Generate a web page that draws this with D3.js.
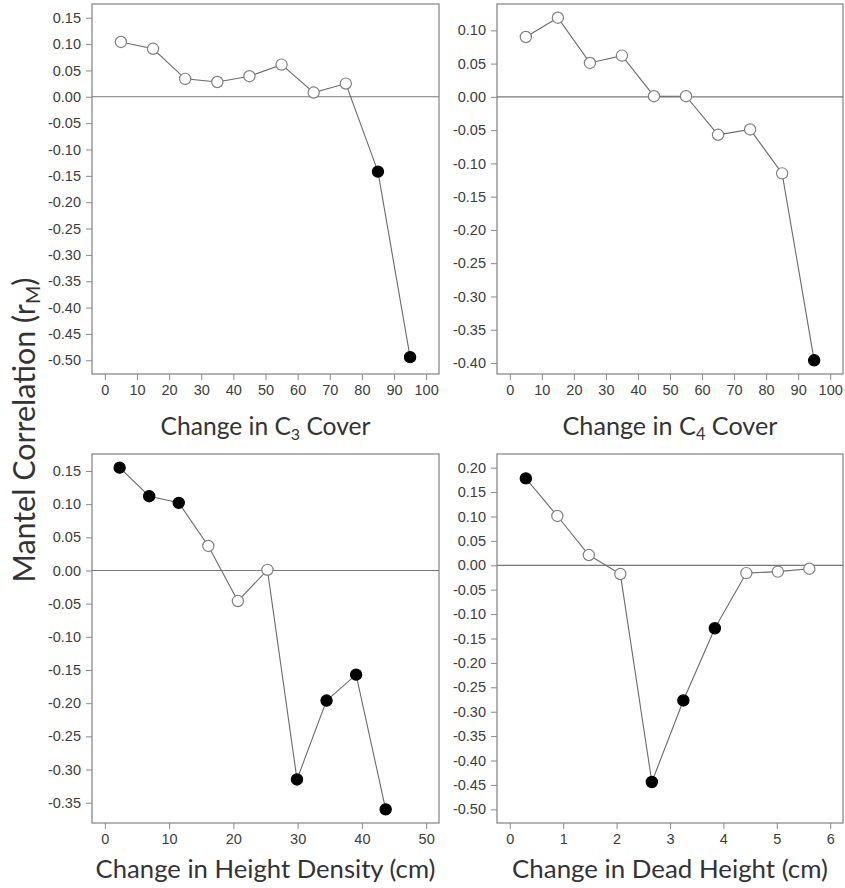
<!DOCTYPE html>
<html>
<head>
<meta charset="utf-8">
<script src="https://cdn.jsdelivr.net/npm/d3@7"></script>
<style>
  body { margin: 0; background: #fff; }
  svg { display: block; }
</style>
</head>
<body>
<svg id="chart" width="845" height="888"></svg>
<script>
// data
const c3Change = [5, 15, 25, 35, 45, 55, 65, 75, 85, 95];
const c3Mantel = [0.104, 0.091, 0.034, 0.028, 0.039, 0.061, 0.008, 0.025, -0.142, -0.494];
const c3Signif = [0, 0, 0, 0, 0, 0, 0, 0, 1, 1];

const c4Change = [5, 15, 25, 35, 45, 55, 65, 75, 85, 95];
const c4Mantel = [0.090, 0.119, 0.051, 0.062, 0.001, 0.001, -0.057, -0.049, -0.115, -0.396];
const c4Signif = [0, 0, 0, 0, 0, 0, 0, 0, 0, 1];

const densChange = [2.3, 6.9, 11.5, 16.1, 20.7, 25.3, 29.9, 34.5, 39.1, 43.7];
const densMantel = [0.155, 0.112, 0.102, 0.037, -0.046, 0.001, -0.315, -0.196, -0.157, -0.360];
const densSignif = [1, 1, 1, 0, 0, 0, 1, 1, 1, 1];

const deadChange = [0.30, 0.89, 1.48, 2.07, 2.66, 3.25, 3.84, 4.43, 5.02, 5.61];
const deadMantel = [0.178, 0.101, 0.021, -0.018, -0.444, -0.277, -0.129, -0.016, -0.013, -0.007];
const deadSignif = [1, 0, 0, 0, 1, 1, 1, 0, 0, 0];

const xTicksCover = d3.range(0, 101, 10);
const xTicksDens = d3.range(0, 51, 10);
const xTicksDead = d3.range(0, 7, 1);
const yTicksC3 = d3.range(-0.50, 0.151, 0.05);
const yTicksC4 = d3.range(-0.40, 0.101, 0.05);
const yTicksDens = d3.range(-0.35, 0.151, 0.05);
const yTicksDead = d3.range(-0.50, 0.201, 0.05);

const svg = d3.select('#chart');
const fmt = d3.formatLocale({decimal: '.', thousands: ',', grouping: [3], currency: ['', ''], minus: '-'});
const yFmt = fmt.format('.2f');
const xFmt = fmt.format('d');

// R style limits: 4% padding on each side
function pad(lo, hi) {
  let d = (hi - lo) * 0.04;
  return [lo - d, hi + d];
}

function fitWidth(text, target) {
  let w = text.node().getComputedTextLength();
  let fs = parseFloat(text.attr('font-size'));
  text.attr('font-size', fs * target / w);
}

function drawPanel(p) {
  let x = d3.scaleLinear().domain(pad(p.xlim[0], p.xlim[1])).range([p.left, p.right]);
  let y = d3.scaleLinear().domain(pad(p.ylim[0], p.ylim[1])).range([p.bottom, p.top]);
  let g = svg.append('g');

  let xAxis = g.append('g')
    .attr('transform', `translate(0,${p.bottom})`)
    .call(d3.axisBottom(x).tickValues(p.xTicks).tickFormat(xFmt).tickSize(6).tickPadding(5));
  let yAxis = g.append('g')
    .attr('transform', `translate(${p.left},0)`)
    .call(d3.axisLeft(y).tickValues(p.yTicks).tickFormat(yFmt).tickSize(6).tickPadding(5));

  [xAxis, yAxis].forEach((a) => {
    a.select('.domain').remove();
    a.attr('font-size', null).attr('font-family', null);
    a.selectAll('line').attr('stroke', '#888');
    a.selectAll('text')
      .attr('fill', '#3c3c3c')
      .style('font-family', '"Liberation Sans", Arial, sans-serif')
      .style('font-size', '14.5px');
  });

  g.append('rect')
    .attr('x', p.left).attr('y', p.top)
    .attr('width', p.right - p.left).attr('height', p.bottom - p.top)
    .attr('fill', 'none').attr('stroke', '#8a8a8a').attr('stroke-width', 1.3);

  g.append('line')
    .attr('x1', p.left).attr('x2', p.right)
    .attr('y1', y(0)).attr('y2', y(0))
    .attr('stroke', '#777').attr('stroke-width', 1.2);

  let pts = p.xs.map((v, i) => ({x: v, y: p.ys[i], sig: p.sig[i]}));

  g.append('path')
    .datum(pts)
    .attr('fill', 'none')
    .attr('stroke', '#6a6a6a')
    .attr('stroke-width', 1.1)
    .attr('d', d3.line().x((d) => x(d.x)).y((d) => y(d.y)));

  g.selectAll('.pt')
    .data(pts)
    .enter()
    .append('circle')
    .attr('class', 'pt')
    .attr('cx', (d) => x(d.x))
    .attr('cy', (d) => y(d.y))
    .attr('r', 5.6)
    .attr('fill', (d) => d.sig ? '#000' : '#fff')
    .attr('stroke', (d) => d.sig ? '#000' : '#808080')
    .attr('stroke-width', 1.2);

  let t = svg.append('text')
    .attr('x', (p.left + p.right) / 2)
    .attr('y', p.titleY)
    .attr('text-anchor', 'middle')
    .attr('fill', '#333')
    .attr('font-family', 'Lato, Open Sans, sans-serif')
    .attr('font-size', 24);
  t.append('tspan').text(p.title[0]);
  if (p.title[1]) {
    t.append('tspan').attr('font-size', '0.65em').attr('dy', 5).text(p.title[1]);
    t.append('tspan').attr('dy', -5).text(p.title[2]);
  }
  fitWidth(t, p.titleW);
}

drawPanel({
  left: 92, right: 439, top: 4, bottom: 374,
  xlim: [0, 100], ylim: [-0.5, 0.15],
  xTicks: xTicksCover, yTicks: yTicksC3,
  xs: c3Change, ys: c3Mantel, sig: c3Signif,
  title: ['Change in C', '3', ' Cover'], titleY: 435, titleW: 210
});
drawPanel({
  left: 497, right: 843, top: 4, bottom: 374,
  xlim: [0, 100], ylim: [d3.min(c4Mantel), d3.max(c4Mantel)],
  xTicks: xTicksCover, yTicks: yTicksC4,
  xs: c4Change, ys: c4Mantel, sig: c4Signif,
  title: ['Change in C', '4', ' Cover'], titleY: 435, titleW: 215
});
drawPanel({
  left: 92, right: 439, top: 454, bottom: 823,
  xlim: [0, 50], ylim: [d3.min(densMantel), d3.max(densMantel)],
  xTicks: xTicksDens, yTicks: yTicksDens,
  xs: densChange, ys: densMantel, sig: densSignif,
  title: ['Change in Height Density (cm)'], titleY: 878, titleW: 340
});
drawPanel({
  left: 497, right: 843, top: 454, bottom: 823,
  xlim: [0, 6], ylim: [-0.5, 0.2],
  xTicks: xTicksDead, yTicks: yTicksDead,
  xs: deadChange, ys: deadMantel, sig: deadSignif,
  title: ['Change in Dead Height (cm)'], titleY: 878, titleW: 316
});

// shared y title
let yt = svg.append('text')
  .attr('transform', 'translate(35,430) rotate(-90)')
  .attr('text-anchor', 'middle')
  .attr('fill', '#333')
  .attr('font-family', 'Lato, Open Sans, sans-serif')
  .attr('font-size', 26);
yt.append('tspan').text('Mantel Correlation (r');
yt.append('tspan').attr('font-size', '0.65em').attr('dy', 5).text('M');
yt.append('tspan').attr('dy', -5).text(')');
fitWidth(yt, 305);
</script>
</body>
</html>
